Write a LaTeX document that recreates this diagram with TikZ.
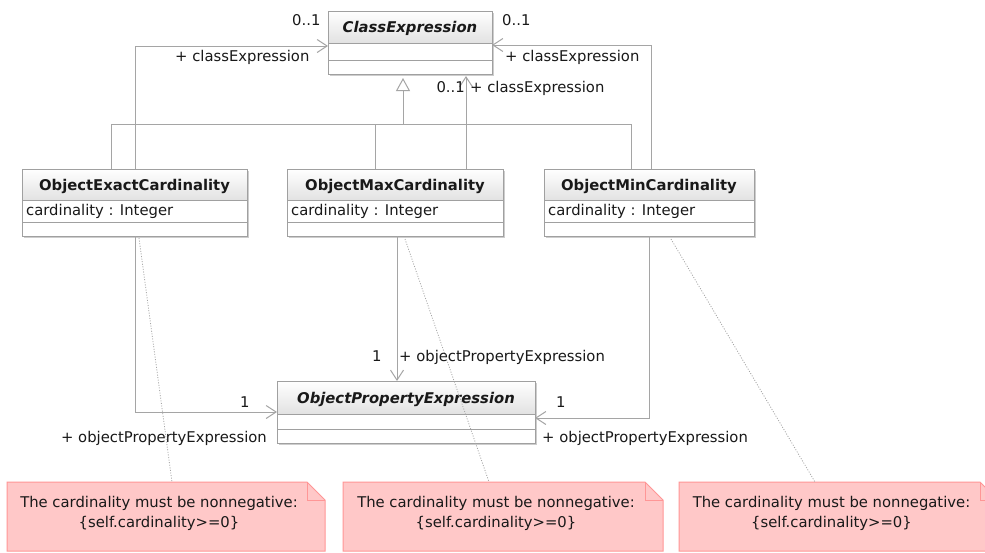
\documentclass[tikz,border=0pt]{standalone}
\usepackage{fontspec}
\setmainfont{DejaVu Sans}
\usetikzlibrary{calc,arrows.meta}

\definecolor{edgegray}{RGB}{165,165,165}
\definecolor{framegray}{RGB}{160,160,160}
\definecolor{shadowgray}{RGB}{205,205,205}
\definecolor{headgray}{RGB}{226,226,226}
\definecolor{notefill}{RGB}{255,200,200}
\definecolor{noteline}{RGB}{255,150,150}
\definecolor{dotgray}{RGB}{165,165,165}
\definecolor{ink}{RGB}{25,25,25}

\tikzset{
  txt/.style={font=\fontsize{14.8}{18}\selectfont, text=ink, inner sep=0pt},
  lbl/.style={txt, anchor=mid west},
  frame/.style={draw=none, inner sep=0pt, outer sep=0pt},
  boxline/.style={draw=framegray, line width=1pt},
  link/.style={draw=edgegray, line width=1pt},
  nav/.style={link, -{Straight Barb[length=10pt, width=13pt, line width=1pt]}},
  gen/.style={link, -{Triangle[open, length=13pt, width=14pt, fill=white, line width=1pt]}},
  anchorline/.style={draw=dotgray, line width=0.8pt, dash pattern=on 1pt off 1.6pt},
  notebody/.style={fill=notefill, draw=noteline, line width=1pt},
}

% class box: name, x, y, width, height, header height, second divider, title, attribute
\newcommand\umlclass[9]{%
  \fill[shadowgray] ($(#2,#3)+(2,2)$) rectangle ++(#4,#5);
  \node[frame, minimum width=#4pt, minimum height=#5pt, anchor=north west] (#1) at (#2,#3) {};
  \shade[top color=white, bottom color=headgray] (#1.north west) rectangle ($(#1.north east)+(0,#6)$);
  \fill[white] ($(#1.north west)+(0,#6)$) rectangle (#1.south east);
  \draw[boxline] (#1.north west) rectangle (#1.south east);
  \draw[boxline] ($(#1.north west)+(0,#6)$) -- ($(#1.north east)+(0,#6)$);
  \draw[boxline] ($(#1.north west)+(0,#7)$) -- ($(#1.north east)+(0,#7)$);
  \node[txt, anchor=mid] at ($(#1.north)+(0,{#6/2+3})$) {#8};
  \node[lbl] at ($(#1.north west)+(4,{(#6+#7)/2+2})$) {#9};
}

% constraint note with folded corner: name, x, y, width, height
\newcommand\umlnote[5]{%
  \node[frame, minimum width=#4pt, minimum height=#5pt, anchor=north west] (#1) at (#2,#3) {};
  \draw[notebody] (#1.north west) -- ($(#1.north east)+(-18,0)$) -- ($(#1.north east)+(0,18)$)
    -- (#1.south east) -- (#1.south west) -- cycle;
  \draw[noteline, line width=1pt] ($(#1.north east)+(-18,0)$) -- ($(#1.north east)+(-18,18)$)
    -- ($(#1.north east)+(0,18)$);
  \node[txt, font=\fontsize{14.8}{20}\selectfont, align=center]
    at ($(#1.north west)+({(#4-18)/2+2},31)$)
    {The cardinality must be nonnegative:\\\{self.cardinality>=0\}};
}

\begin{document}
\begin{tikzpicture}[x=1pt,y=-1pt]
\useasboundingbox (0,0) rectangle (985,552);
\fill[white] (0,0) rectangle (985,552);

% classes
\umlclass{ce}{328}{11}{164}{63}{32}{49}{\bfseries\itshape ClassExpression}{}
\umlclass{oe}{22}{169}{225}{67}{31}{53}{\bfseries ObjectExactCardinality}{cardinality : Integer}
\umlclass{om}{287}{169}{216}{67}{31}{53}{\bfseries ObjectMaxCardinality}{cardinality : Integer}
\umlclass{on}{544}{169}{210}{67}{31}{53}{\bfseries ObjectMinCardinality}{cardinality : Integer}
\umlclass{ope}{277}{381}{258}{62}{33}{48}{\bfseries\itshape ObjectPropertyExpression}{}

% generalization tree
\coordinate (genbar) at ($(ce.south west)+(75,50)$);
\draw[gen] (genbar) -- ($(ce.south west)+(75,4)$);
\draw[link] ($(oe.north west)+(89,0)$) |- ($(on.north west)+(87,-45)$) -- ($(on.north west)+(87,0)$);
\draw[link] ($(om.north west)+(88,0)$) -- ($(om.north west)+(88,-45)$);

% associations to ClassExpression
\draw[nav] ($(oe.north west)+(113,0)$) |- ($(ce.north west)+(0,35)$);
\draw[nav] ($(om.north west)+(179,0)$) -- ($(ce.south west)+(138,2)$);
\draw[nav] ($(on.north west)+(107,0)$) |- ($(ce.north east)+(0,34)$);

% associations to ObjectPropertyExpression
\draw[nav] ($(oe.south west)+(113,0)$) |- ($(ope.north west)+(0,31)$);
\draw[nav] ($(om.south west)+(110,0)$) -- ($(ope.north west)+(120,0)$);
\draw[nav] ($(on.south west)+(105,0)$) |- ($(ope.north east)+(0,37)$);

% role names and multiplicities
\node[lbl] (m1) at (292,23) {0..1};
\node[lbl] (r1) at (175,59) {+ classExpression};
\node[lbl] (m2) at (502,23) {0..1};
\node[lbl] (r2) at (505,59) {+ classExpression};
\node[lbl, anchor=mid east] (m3) at (465,90) {0..1};
\node[lbl] (r3) at (470,90) {+ classExpression};
\node[lbl] (m4) at (240,405) {1};
\node[lbl, anchor=mid east] (r4) at (267,440) {+ objectPropertyExpression};
\node[lbl] (m5) at (372,359) {1};
\node[lbl] (r5) at (399,359) {+ objectPropertyExpression};
\node[lbl] (m6) at (556,405) {1};
\node[lbl] (r6) at (542,440) {+ objectPropertyExpression};

% constraint notes
\umlnote{n1}{7}{482}{318}{69}
\umlnote{n2}{343}{482}{320}{69}
\umlnote{n3}{679}{482}{319}{69}

% note attachments
\draw[anchorline] ($(oe.south west)+(117,2)$) -- ($(n1.north west)+(165,0)$);
\draw[anchorline] ($(om.south west)+(118,3)$) -- ($(n2.north west)+(146,0)$);
\draw[anchorline] ($(on.south west)+(127,3)$) -- ($(n3.north west)+(136,0)$);
\end{tikzpicture}
\end{document}
